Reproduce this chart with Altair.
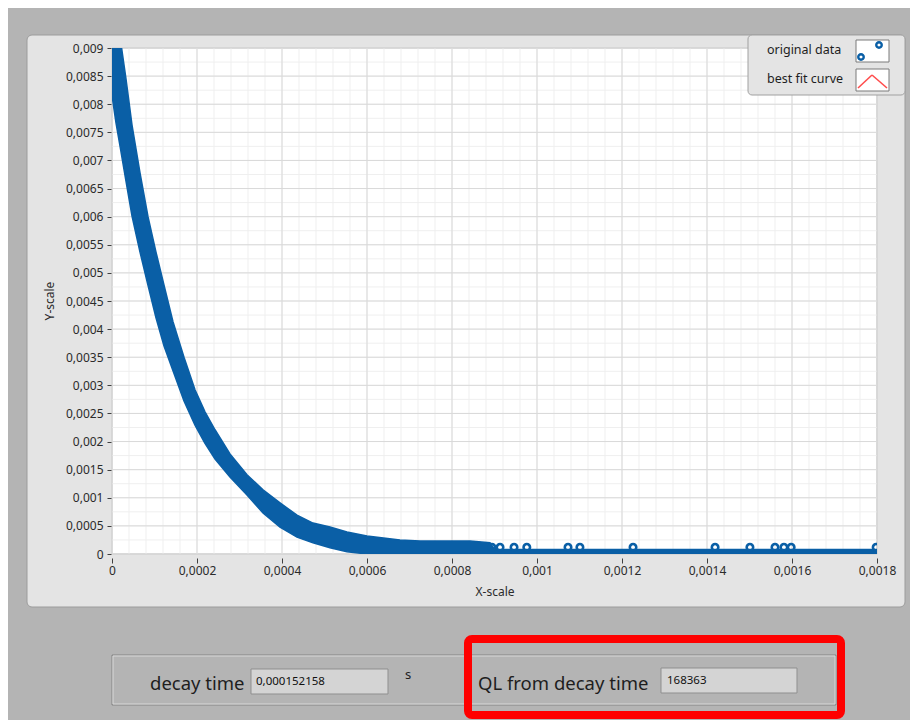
import altair as alt
import pandas as pd

# ---- data ----
# the cloud of "original data" points forms a thick band: upper and lower edge per x
band_x = [0, 0.0000094, 0.0000188, 0.0000329, 0.0000471, 0.0000659, 0.0000847, 0.0001035,
          0.0001224, 0.0001435, 0.0001694, 0.0001953, 0.0002188, 0.0002424, 0.0002776,
          0.0003176, 0.0003553, 0.0003953, 0.0004353, 0.0004729, 0.0005129, 0.0005529,
          0.0006, 0.0006776, 0.0007247, 0.0008424, 0.0008894, 0.0009, 0.0018]
band_hi = [0.0092, 0.0092, 0.0092, 0.00845, 0.00763, 0.00678, 0.0060, 0.00537,
           0.00478, 0.00413, 0.00350, 0.00292, 0.00253, 0.00221, 0.00178,
           0.00141, 0.00114, 0.00091, 0.00069, 0.00055, 0.00048, 0.00039,
           0.00032, 0.00025, 0.00023, 0.00023, 0.0002, 0.00008, 0.00008]
band_lo = [0.00816, 0.00767, 0.00726, 0.00663, 0.00601, 0.00537, 0.00478, 0.0042,
           0.0037, 0.00326, 0.00272, 0.00229, 0.00197, 0.00169, 0.00137,
           0.00105, 0.00073, 0.00048, 0.0003, 0.0002, 0.00011, 0.00004,
           0, 0, 0, 0, 0, 0, 0]
circ_x = [0.000894, 0.000913, 0.000946, 0.000976, 0.001073, 0.001101, 0.001226,
          0.001419, 0.001501, 0.00156, 0.001581, 0.001598, 0.001798]
circ_y = [0.00012] * len(circ_x)

x_ticks = [0, 0.0002, 0.0004, 0.0006, 0.0008, 0.001, 0.0012, 0.0014, 0.0016, 0.0018]
y_ticks = [0, 0.0005, 0.001, 0.0015, 0.002, 0.0025, 0.003, 0.0035, 0.004, 0.0045,
           0.005, 0.0055, 0.006, 0.0065, 0.007, 0.0075, 0.008, 0.0085, 0.009]
x_minor = [round(i * 0.00004, 6) for i in range(46)]
y_minor = [round(i * 0.00025, 6) for i in range(37)]

x_title = "X-scale"
y_title = "Y-scale"
legend_labels = ["original data", "best fit curve"]
decay_label = "decay time"
decay_value = "0,000152158"
decay_unit = "s"
ql_label = "QL from decay time"
ql_value = "168363"

# ---- styling ----
BLUE = "#0a5fa6"
FONT = "Noto Sans"
W, H = 765, 506

band_df = pd.DataFrame({"x": band_x, "hi": band_hi, "lo": band_lo})
circ_df = pd.DataFrame({"x": circ_x, "y": circ_y})
one = pd.DataFrame({"k": [0]})

XS = alt.Scale(domain=[0, 0.0018], nice=False, zero=False)
YS = alt.Scale(domain=[0, 0.009], nice=False, zero=False)
LBL = "replace(format(datum.value, '.4~f'), '.', ',')"
AX = alt.Axis(values=x_ticks, labelExpr=LBL, grid=False, domain=False, tickColor="#404040",
              tickSize=5, offset=4, labelPadding=2, labelFont=FONT, labelFontSize=12,
              labelColor="#2b2b2b", title=None, zindex=1, labelFlush=False, labelOverlap=False)
AY = alt.Axis(values=y_ticks, labelExpr=LBL, grid=False, domain=False, tickColor="#404040",
              tickSize=4, offset=1, labelPadding=4, labelFont=FONT, labelFontSize=12,
              labelColor="#2b2b2b", title=None, zindex=1, labelOverlap=False)


def rect(x, x2, y, y2, **kw):
    return alt.Chart(one).mark_rect(**kw).encode(
        x=alt.value(x), x2=alt.value(x2), y=alt.value(y), y2=alt.value(y2))


def text(x, y, s, **kw):
    kw.setdefault("font", FONT)
    kw.setdefault("color", "#1e1e1e")
    kw.setdefault("align", "left")
    kw.setdefault("baseline", "middle")
    return alt.Chart(one).mark_text(**kw).encode(
        x=alt.value(x), y=alt.value(y), text=alt.value(s))


def seg(x, y, x2, y2, **kw):
    return alt.Chart(one).mark_rule(**kw).encode(
        x=alt.value(x), y=alt.value(y), x2=alt.value(x2), y2=alt.value(y2))


panel = rect(-85, 793, -13, 559, fill="#e4e4e4", stroke="#9c9c9c", cornerRadius=5)
plotbg = rect(0, W, 0, H, fill="white", stroke="#8c8c8c", strokeWidth=1)

gx_minor = alt.Chart(pd.DataFrame({"x": x_minor})).mark_rule(color="#efefef").encode(
    x=alt.X("x:Q", scale=XS, axis=AX))
gy_minor = alt.Chart(pd.DataFrame({"y": y_minor})).mark_rule(color="#efefef").encode(
    y=alt.Y("y:Q", scale=YS, axis=AY))
gx_major = alt.Chart(pd.DataFrame({"x": x_ticks})).mark_rule(color="#d9d9d9").encode(
    x=alt.X("x:Q", scale=XS, axis=AX))
gy_major = alt.Chart(pd.DataFrame({"y": y_ticks})).mark_rule(color="#d9d9d9").encode(
    y=alt.Y("y:Q", scale=YS, axis=AY))

band = alt.Chart(band_df).mark_area(color=BLUE, clip=True, opacity=1,
                                    stroke=BLUE, strokeWidth=1.5).encode(
    x=alt.X("x:Q", scale=XS, axis=AX),
    y=alt.Y("hi:Q", scale=YS, axis=AY),
    y2="lo:Q")
circles = alt.Chart(circ_df).mark_point(shape="circle", filled=False, size=42, strokeWidth=2.6,
                                        color=BLUE, opacity=1, clip=True).encode(
    x=alt.X("x:Q", scale=XS, axis=AX),
    y=alt.Y("y:Q", scale=YS, axis=AY))

ytitle = text(-62, 253, y_title, angle=270, align="center", fontSize=12, color="#2b2b2b")
xtitle = text(383, 544, x_title, align="center", fontSize=12, color="#2b2b2b")

# legend
leg_box = rect(636, 793, -13, 47, fill="#e4e4e4", stroke="#a0a0a0", cornerRadius=4)
leg_t1 = text(655, 2, legend_labels[0], fontSize=12.5)
leg_t2 = text(655, 31, legend_labels[1], fontSize=12.5)
icon1 = rect(744, 777, -8, 14, fill="white", stroke="#7a7a7a")
icon2 = rect(744, 777, 21, 43, fill="white", stroke="#7a7a7a")
icon_pts = alt.Chart(pd.DataFrame({"px": [767, 749], "py": [-3, 9]})).mark_point(
    shape="circle", filled=False, size=30, strokeWidth=2.4, color=BLUE, opacity=1).encode(
    x=alt.X("px:Q", scale=None), y=alt.Y("py:Q", scale=None))
caret1 = seg(746, 40, 760, 27, color="#ff4d4d", strokeWidth=1.6)
caret2 = seg(760, 27, 775, 40, color="#ff4d4d", strokeWidth=1.6)

# bottom indicator panel
frame_out = rect(0, 724, 607, 657, fillOpacity=0, stroke="#858585", strokeWidth=1)
frame_in = rect(1, 723, 608, 656, fillOpacity=0, stroke="#d8d8d8", strokeWidth=1)
field1 = rect(139, 276, 621, 646, fill="#d4d4d4", stroke="#8f8f8f")
field2 = rect(549, 685, 620, 645, fill="#d4d4d4", stroke="#8f8f8f")
t_decay = text(38, 636, decay_label, fontSize=18.5)
t_decay_v = text(144, 634, decay_value, fontSize=11.5, color="#111111")
t_unit = text(293, 627, decay_unit, fontSize=13)
t_ql = text(366, 636, ql_label, fontSize=18.5)
t_ql_v = text(555, 633, ql_value, fontSize=11.5, color="#111111")
red_box = rect(356, 729, 591, 667, fillOpacity=0, stroke="#ff0000", strokeWidth=8, cornerRadius=4)

chart = alt.layer(
    panel, plotbg, gx_minor, gy_minor, gx_major, gy_major, band, circles,
    ytitle, xtitle, leg_box, leg_t1, leg_t2, icon1, icon2, icon_pts, caret1, caret2,
    frame_out, frame_in, field1, field2, t_decay, t_decay_v, t_unit, t_ql, t_ql_v, red_box
).properties(
    width=W, height=H,
    padding={"left": 104, "top": 40, "right": 33, "bottom": 166},
    autosize=alt.AutoSizeParams(type="none"),
    background="#b4b4b4",
).configure_view(stroke=None)

chart.save("out.html", embed_options={"renderer": "svg", "actions": False})
